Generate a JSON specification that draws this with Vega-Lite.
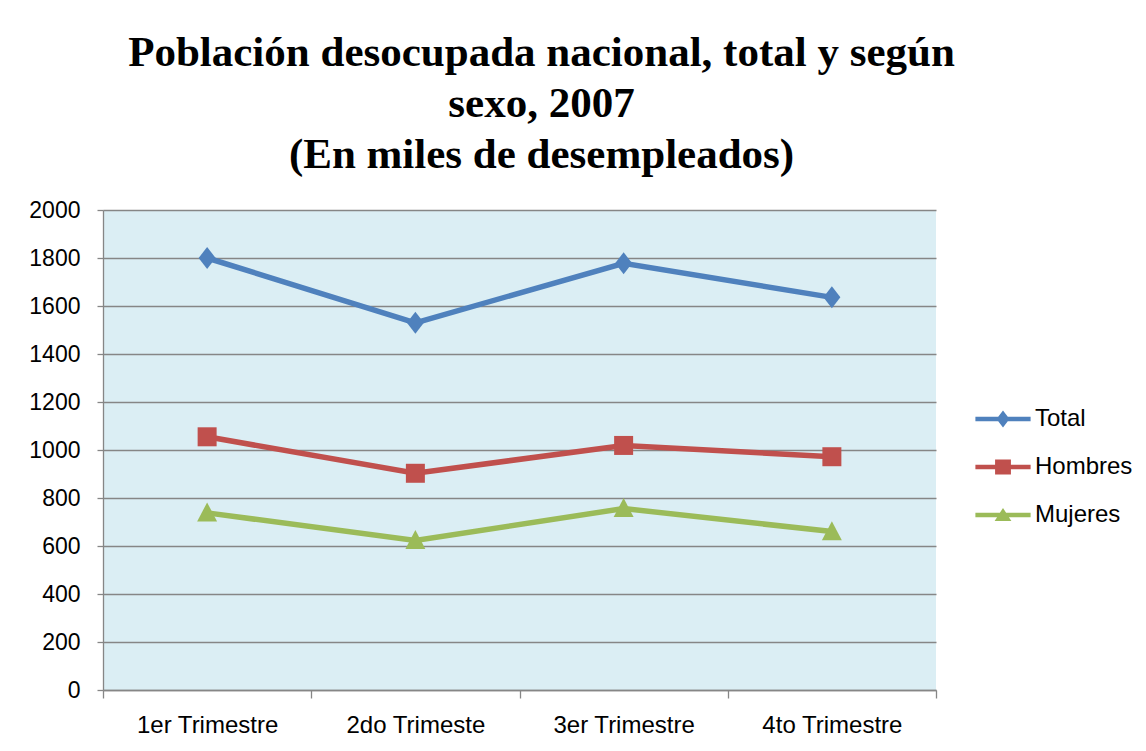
{
  "$schema": "https://vega.github.io/schema/vega-lite/v6.json",
  "width": 833,
  "height": 480,
  "autosize": {"type": "none"},
  "padding": {"left": 103, "top": 210, "right": 210, "bottom": 61},
  "background": "white",
  "title": {
    "text": ["Población desocupada nacional, total y según", "sexo, 2007", "(En miles de desempleados)"],
    "font": "Liberation Serif",
    "fontSize": 43,
    "fontWeight": "bold",
    "color": "black",
    "lineHeight": 51,
    "anchor": "middle",
    "frame": "group",
    "dx": 22,
    "offset": 22
  },
  "data": {
    "values": [
      {"trimestre": "1er Trimestre", "serie": "Total", "valor": 1800},
      {"trimestre": "2do Trimeste", "serie": "Total", "valor": 1530},
      {"trimestre": "3er Trimestre", "serie": "Total", "valor": 1778},
      {"trimestre": "4to Trimestre", "serie": "Total", "valor": 1636},
      {"trimestre": "1er Trimestre", "serie": "Hombres", "valor": 1055},
      {"trimestre": "2do Trimeste", "serie": "Hombres", "valor": 903},
      {"trimestre": "3er Trimestre", "serie": "Hombres", "valor": 1019},
      {"trimestre": "4to Trimestre", "serie": "Hombres", "valor": 972},
      {"trimestre": "1er Trimestre", "serie": "Mujeres", "valor": 738},
      {"trimestre": "2do Trimeste", "serie": "Mujeres", "valor": 623},
      {"trimestre": "3er Trimestre", "serie": "Mujeres", "valor": 756},
      {"trimestre": "4to Trimestre", "serie": "Mujeres", "valor": 660}
    ]
  },
  "encoding": {
    "x": {
      "field": "trimestre",
      "type": "nominal",
      "sort": null,
      "scale": {"type": "band", "paddingInner": 0, "paddingOuter": 0},
      "axis": {
        "title": null,
        "labelAngle": 0,
        "tickBand": "extent",
        "tickSize": 8,
        "tickColor": "#868686",
        "tickWidth": 1.3,
        "domainColor": "#868686",
        "domainWidth": 1.3,
        "labelPadding": 15,
        "labelFont": "Liberation Sans",
        "labelFontSize": 24,
        "labelColor": "black",
        "grid": false
      }
    },
    "y": {
      "field": "valor",
      "type": "quantitative",
      "scale": {"domain": [0, 2000], "nice": false},
      "axis": {
        "title": null,
        "values": [0, 200, 400, 600, 800, 1000, 1200, 1400, 1600, 1800, 2000],
        "format": "d",
        "tickSize": 6,
        "tickColor": "#868686",
        "tickWidth": 1.3,
        "domainColor": "#868686",
        "domainWidth": 1.3,
        "gridColor": "#868686",
        "gridWidth": 1.5,
        "gridOpacity": 1,
        "labelPadding": 17,
        "labelFont": "Liberation Sans",
        "labelFontSize": 23,
        "labelColor": "black"
      }
    }
  },
  "layer": [
    {
      "mark": {"type": "line", "strokeWidth": 5.5},
      "encoding": {
        "color": {
          "field": "serie",
          "type": "nominal",
          "scale": {"domain": ["Total", "Hombres", "Mujeres"], "range": ["#4F81BD", "#C0504D", "#9BBB59"]},
          "legend": {
            "title": null,
            "orient": "none",
            "legendX": 876,
            "legendY": 185,
            "padding": 0,
            "rowPadding": 12,
            "symbolSize": 2304,
            "symbolStrokeWidth": 0,
            "labelOffset": 8,
            "labelFont": "Liberation Sans",
            "labelFontSize": 24,
            "labelColor": "black",
            "encode": {
              "symbols": {
                "update": {
                  "shape": {"signal": "datum.value === 'Total' ? 'M-1.15,-0.09H-0.2L0,-0.35L0.2,-0.09H1.15V0.09H0.2L0,0.35L-0.2,0.09H-1.15Z' : datum.value === 'Hombres' ? 'M-1.15,-0.09H-0.33V-0.31H0.33V-0.09H1.15V0.09H0.33V0.31H-0.33V0.09H-1.15Z' : 'M-1.15,-0.09H-0.13L0,-0.29L0.13,-0.09H1.15V0.09H0.246L0.35,0.25H-0.35L-0.246,0.09H-1.15Z'"},
                  "fill": {"signal": "datum.value === 'Total' ? '#4F81BD' : datum.value === 'Hombres' ? '#C0504D' : '#9BBB59'"},
                  "fillOpacity": {"value": 1},
                  "strokeWidth": {"value": 0}
                }
              }
            }
          }
        }
      }
    },
    {
      "transform": [{"filter": "datum.serie === 'Total'"}],
      "mark": {"type": "point", "filled": true, "opacity": 1, "size": 400, "color": "#4F81BD", "shape": "M0,-1.1L0.85,0L0,1.1L-0.85,0Z"}
    },
    {
      "transform": [{"filter": "datum.serie === 'Hombres'"}],
      "mark": {"type": "point", "filled": true, "opacity": 1, "size": 361, "color": "#C0504D", "shape": "M-1,-1H1V1H-1Z"}
    },
    {
      "transform": [{"filter": "datum.serie === 'Mujeres'"}],
      "mark": {"type": "point", "filled": true, "opacity": 1, "size": 361, "color": "#9BBB59", "shape": "M0,-1.1L1.05,0.9H-1.05Z"}
    }
  ],
  "config": {
    "view": {"fill": "#DBEEF4", "stroke": null}
  }
}
